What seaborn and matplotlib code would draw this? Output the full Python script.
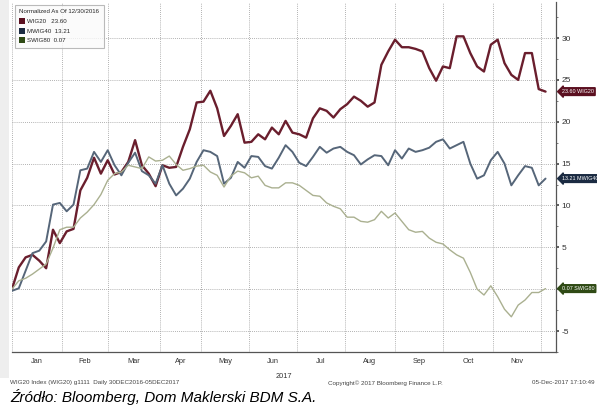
import numpy as np
import pandas as pd
import seaborn as sns
import matplotlib.pyplot as plt
from matplotlib.patches import Patch, Rectangle

# --- data (normalized % change since 12/30/2016, read every 3rd trading day) ---
start_date = "2016-12-30"
end_date = "2017-12-05"
gpw_holidays = ["2017-01-06", "2017-04-14", "2017-04-17", "2017-05-01",
                "2017-05-03", "2017-06-15", "2017-08-15", "2017-11-01"]
sample_step = 3

wig20 = [0.0, 2.6, 3.8, 4.1, 3.4, 2.5, 7.1, 5.5, 6.9, 7.2,
         11.8, 13.3, 15.7, 13.8, 15.4, 13.7, 14.0, 15.2, 17.8, 14.8,
         13.8, 12.3, 14.8, 14.5, 14.6, 17.0, 19.1, 22.3, 22.4, 23.7,
         21.6, 18.3, 19.5, 20.9, 17.5, 17.6, 18.5, 17.9, 19.3, 18.5,
         20.1, 18.7, 18.5, 18.1, 20.4, 21.6, 21.3, 20.5, 21.5, 22.1,
         23.0, 22.5, 21.8, 22.3, 26.8, 28.4, 29.8, 28.9, 28.9, 28.7,
         28.4, 26.4, 24.9, 26.6, 26.4, 30.2, 30.2, 28.2, 26.6, 26.0,
         29.2, 29.8, 27.0, 25.6, 25.0, 28.2, 28.2, 23.9, 23.60]
mwig40 = [-0.2, 0.1, 2.2, 4.3, 4.6, 5.7, 10.1, 10.3, 9.3, 10.1,
          14.2, 14.4, 16.4, 15.2, 16.6, 14.8, 13.6, 15.1, 16.3, 14.1,
          13.6, 12.6, 14.8, 12.6, 11.2, 12.0, 13.2, 15.2, 16.6, 16.4,
          15.9, 12.6, 13.3, 15.2, 14.5, 15.9, 15.8, 14.7, 14.4, 15.7,
          17.2, 16.4, 15.1, 14.7, 15.8, 17.0, 16.3, 16.8, 17.0, 16.4,
          16.0, 14.9, 15.5, 16.0, 15.9, 14.8, 16.6, 15.6, 16.8, 16.4,
          16.6, 16.9, 17.6, 17.9, 16.8, 17.2, 17.6, 15.0, 13.2, 13.6,
          15.4, 16.4, 15.0, 12.4, 13.6, 14.7, 14.5, 12.4, 13.21]
swig80 = [0.0, 1.0, 1.3, 1.8, 2.4, 3.0, 4.9, 7.1, 7.4, 7.4,
          8.5, 9.2, 10.1, 11.3, 13.0, 13.8, 14.0, 14.8, 14.6, 14.4,
          15.8, 15.3, 15.4, 15.9, 14.9, 14.2, 14.4, 14.7, 14.8, 14.0,
          13.6, 12.2, 13.5, 14.1, 13.9, 13.3, 13.5, 12.4, 12.1, 12.1,
          12.7, 12.7, 12.4, 11.8, 11.2, 11.1, 10.3, 9.9, 9.6, 8.6,
          8.6, 8.1, 8.0, 8.3, 9.3, 8.5, 9.1, 8.1, 7.1, 6.8,
          6.9, 6.1, 5.6, 5.4, 4.7, 4.1, 3.7, 2.0, 0.0, -0.7,
          0.4, -0.9, -2.4, -3.3, -1.9, -1.3, -0.4, -0.4, 0.07]

series_names = ["WIG20", "mWIG40", "sWIG80"]
legend_names = ["WIG20", "MWIG40", "SWIG80"]
month_labels = ["Jan", "Feb", "Mar", "Apr", "May", "Jun",
                "Jul", "Aug", "Sep", "Oct", "Nov"]
y_ticks = [-5, 0, 5, 10, 15, 20, 25, 30]

line_colors = ["#6a1e2d", "#566679", "#aab090"]
box_colors = ["#5b1020", "#1b2b42", "#2f4a15"]

# trading calendar (x axis is in trading days, like the terminal chart)
days = pd.bdate_range(start_date, end_date, freq="C", holidays=gpw_holidays)
day_idx = np.arange(len(days))[::sample_step]

df = pd.DataFrame({"day": np.tile(day_idx, 3),
                   "value": wig20 + mwig40 + swig80,
                   "index": np.repeat(series_names, len(day_idx))})

sns.set_theme(style="white")
plt.rcParams["font.family"] = ["Liberation Sans Narrow", "Liberation Sans", "DejaVu Sans"]

fig = plt.figure(figsize=(5.97, 4.05), dpi=100)
fig.patches.append(Rectangle((0, 0.067), 0.015, 0.933, transform=fig.transFigure,
                             facecolor="#eeeeee", edgecolor="none", zorder=0))
ax = fig.add_axes([0.020, 0.131, 0.911, 0.864])

sns.lineplot(data=df, x="day", y="value", hue="index", palette=line_colors,
             hue_order=series_names, ax=ax, legend=False, size="index",
             size_order=series_names, sizes=[1.7, 1.4, 1.0])

# month boundaries / labels (first trading day of each 2017 month)
in_2017 = days.year == 2017
month_first = [0] + [int(np.argmax(in_2017 & (days.month == m))) for m in range(2, 13)]
month_mid = [(month_first[k] + month_first[k + 1]) / 2 for k in range(11)]

ax.set_xlim(0, 238.5)
ax.set_ylim(-7.1, 34.3)
ax.set_xticks(month_first)
ax.set_xticklabels([])
ax.set_xticks(month_mid, minor=True)
ax.set_xticklabels(month_labels, minor=True, fontsize=5.3, color="#333333")
ax.tick_params(axis="x", which="major", direction="inout", length=4, width=0.6, color="#555555")
ax.tick_params(axis="x", which="minor", length=0, pad=4)
ax.set_xlabel("")
ax.set_ylabel("")
ax.text(0.5, -0.06, "2017", transform=ax.transAxes, ha="center", va="top",
        fontsize=5.3, color="#333333")

ax.yaxis.tick_right()
ax.set_yticks(y_ticks)
# the 0 label sits under the sWIG80 tag in the original, so it is left blank
ax.set_yticklabels(["" if t == 0 else str(t) for t in y_ticks], fontsize=6, color="#333333")
ax.set_yticks(np.arange(-7.5, 34, 2.5), minor=True)
ax.tick_params(axis="y", which="major", direction="out", length=2.5, width=1.2,
               color="#444444", pad=1.5, right=True, left=False)
ax.tick_params(axis="y", which="minor", direction="out", length=1.5, width=0.6,
               color="#666666", right=True, left=False)

ax.grid(True, which="major", linestyle=(0, (1, 1.5)), linewidth=0.6, color="#999999")
for s in ["top", "left"]:
    ax.spines[s].set_visible(False)
for s in ["bottom", "right"]:
    ax.spines[s].set_color("#555555")
    ax.spines[s].set_linewidth(0.9)

# end-value tags
ends = [wig20[-1], mwig40[-1], swig80[-1]]
for name, val, bc in zip(legend_names, ends, box_colors):
    ax.text(1.011, val, f"{val:.2f} {name}", transform=ax.get_yaxis_transform(),
            ha="left", va="center", fontsize=3.9, color="white", clip_on=False,
            bbox=dict(boxstyle="larrow,pad=0.25", facecolor=bc, edgecolor=bc))

# legend box
handles = [Patch(facecolor=c, edgecolor="none") for c in box_colors]
labels = [f"{n:<7} {v:.2f}" for n, v in zip(legend_names, ends)]
leg = ax.legend(handles, labels, title="Normalized As Of 12/30/2016", loc="upper left",
                bbox_to_anchor=(0.0, 1.0), fontsize=4.4, title_fontsize=4.4,
                handlelength=0.9, handleheight=1.1, handletextpad=0.4,
                labelspacing=0.6, borderpad=0.7, frameon=True, fancybox=False,
                alignment="left")
leg.get_frame().set_edgecolor("#aaaaaa")
leg.get_frame().set_facecolor("#fafafa")
leg.get_frame().set_linewidth(0.8)

# footer
fig.text(0.017, 0.055, "WIG20 Index (WIG20) g1111  Daily 30DEC2016-05DEC2017",
         fontsize=4.5, color="#444444", va="center")
fig.text(0.645, 0.055, "Copyright\u00a9 2017 Bloomberg Finance L.P.",
         fontsize=4.5, color="#444444", va="center", ha="center")
fig.text(0.995, 0.055, "05-Dec-2017 17:10:49", fontsize=4.5, color="#444444",
         va="center", ha="right")
fig.text(0.017, 0.02, "Źródło: Bloomberg, Dom Maklerski BDM S.A.", fontsize=11,
         style="italic", family=["Liberation Sans", "DejaVu Sans"], color="black",
         va="center")

fig.savefig("out.png", dpi=100, facecolor="white")
